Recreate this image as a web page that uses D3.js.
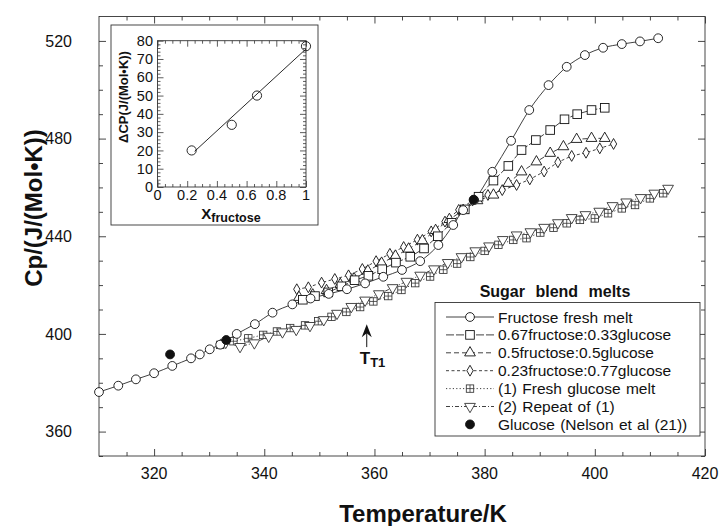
<!DOCTYPE html>
<html><head><meta charset="utf-8">
<script src="https://cdn.jsdelivr.net/npm/d3@7"></script>
<style>
html,body{margin:0;padding:0;background:#fff;}
svg text{font-family:"Liberation Sans",Arial,Helvetica,sans-serif;fill:#111;}
</style></head>
<body><svg id="c" width="719" height="526"></svg>
<script>
// ---------- data ----------
const xTickLabels = [320, 340, 360, 380, 400, 420];
const yTickLabels = [360, 400, 440, 480, 520];
const insetXTickLabels = [0, 0.2, 0.4, 0.6, 0.8, 1];
const insetYTickLabels = [0, 10, 20, 30, 40, 50, 60, 70, 80];

const fructoseT  = [310,313.5,316.7,320,323.3,326.7,328.3,330.1,332,335,338.3,341.5,345.1,348.4,351.7,355,358.3,361.6,365,368.3,371.6,374.3,376.1,378.1,381.4,384.8,388.1,391.6,394.9,398.2,401.5,404.9,408.2,411.5];
const fructoseCp = [376.2,378.8,381.4,383.9,386.9,390.0,391.6,393.7,395.6,400.0,404.0,408.7,412.1,414.5,416.4,418.3,420.7,423.4,426.2,429.8,436.4,444.6,450.7,454.8,466.4,479.1,491.7,501.9,509.4,514.2,517.2,518.7,519.8,521.1];

const blend67T  = [347.0,349.2,351.6,354.0,356.4,358.9,361.4,363.9,366.5,369.0,371.5,374.0,376.4,378.9,381.6,384.3,386.7,389.3,391.9,394.5,396.8,399.4,401.8];
const blend67Cp = [414.0,415.5,417.0,419.5,422.0,423.8,426.5,429.2,431.6,435.0,440.0,445.5,451.0,456.2,462.8,468.8,475.3,479.4,483.5,487.9,490.0,491.7,492.6];

const blend50T  = [346.3,348.8,351.3,353.8,356.3,358.8,361.3,363.8,366.2,368.7,371.1,373.6,376.1,378.7,381.6,384.3,386.7,389.4,391.9,394.3,396.7,399.4,401.8];
const blend50Cp = [415.0,416.0,417.8,420.3,422.6,425.8,429.0,431.9,434.8,438.2,442.4,446.9,450.6,454.6,456.9,461.7,466.4,470.5,474.0,476.7,479.7,480.1,480.1];

const blend23T  = [345.9,348.0,350.4,352.8,355.3,357.8,360.3,362.8,365.3,367.8,370.3,372.8,375.3,377.8,380.6,383.2,385.8,388.2,390.8,393.3,395.8,398.4,400.9,403.4];
const blend23Cp = [418.3,419.1,421.0,422.5,424.0,426.6,429.8,432.8,435.6,438.6,442.0,446.0,450.8,454.6,456.9,458.9,461.0,463.3,466.5,470.3,472.9,474.2,476.0,477.8];

const glucose1T  = [332.0,334.4,337.1,339.8,342.3,344.7,347.4,349.8,352.2,354.9,357.4,359.8,362.5,364.9,367.4,370.1,372.5,375.0,377.4,380.0,382.5,385.2,387.6,390.1,392.5,394.9,397.3,400.0,402.4,404.9,407.3,410.0,412.4];
const glucose1Cp = [395.5,397.0,398.2,399.6,401.0,402.4,403.5,405.2,407.0,409.0,411.0,413.3,415.5,418.0,420.8,423.5,426.3,428.8,431.5,434.0,436.5,438.5,439.2,441.5,443.5,445.3,446.7,447.3,449.4,451.4,452.8,455.5,457.6];

const glucose2T  = [333.0,335.6,338.2,340.8,343.3,345.8,348.3,350.8,353.2,355.8,358.3,360.8,363.3,365.8,368.3,370.8,373.3,375.8,378.3,380.8,383.3,385.8,388.3,390.8,393.3,395.8,398.3,400.8,403.2,405.7,408.3,410.8,413.3];
const glucose2Cp = [396.5,394.8,396.3,399.0,400.8,401.8,403.4,405.8,408.4,411.2,413.8,416.4,418.9,421.5,424.0,426.6,429.2,431.6,434.0,436.0,438.6,440.5,441.8,443.6,445.5,447.6,448.8,450.2,452.5,454.0,455.8,457.6,459.6];

const nelsonT  = [322.9, 333.1, 378.0];
const nelsonCp = [391.6, 397.5, 455.0];

const seriesNames = ["Fructose fresh melt","0.67fructose:0.33glucose","0.5fructose:0.5glucose","0.23fructose:0.77glucose","(1) Fresh glucose melt","(2) Repeat of (1)","Glucose (Nelson et al (21))"];

// inset
const insetX  = [0.23, 0.5, 0.67, 1.0];
const insetDCp = [20, 34, 50, 77];
const fitX = [0.25, 1.0];
const fitY = [19.5, 75.5];

const ttArrowT = 358.6, ttArrowCpTop = 404.0, ttArrowCpBottom = 394.6;

// ---------- drawing ----------
const svg = d3.select("#c");
const ink = "#111";
const x = d3.scaleLinear().domain([310, 420]).range([99, 705]);
const y = d3.scaleLinear().domain([350, 530]).range([456, 16.5]);

const g = svg.append("g");
g.append("rect").attr("x", x(310)).attr("y", y(530)).attr("width", x(420)-x(310)).attr("height", y(350)-y(530))
  .attr("fill","none").attr("stroke","#333").attr("stroke-width",0.9);

function axis(gen, vals, size, tx, ty){
  const a = g.append("g").attr("transform",`translate(${tx},${ty})`)
    .call(gen.tickValues(vals).tickSize(size).tickFormat(""));
  a.select(".domain").remove();
  a.selectAll("line").attr("stroke","#333").attr("stroke-width",0.9);
  return a;
}
const xMinor = d3.range(315, 420, 5).filter(v => v % 20 !== 0);
const yMinor = d3.range(350, 530, 10).filter(v => (v-360) % 40 !== 0);
axis(d3.axisBottom(x), xMinor, -4, 0, y(350));
axis(d3.axisBottom(x), xTickLabels, -7, 0, y(350));
axis(d3.axisTop(x), xMinor, -4, 0, y(530));
axis(d3.axisTop(x), xTickLabels, -7, 0, y(530));
axis(d3.axisLeft(y), yMinor, -4, x(310), 0);
axis(d3.axisLeft(y), yTickLabels, -7, x(310), 0);
axis(d3.axisRight(y), yMinor, -4, x(420), 0);
axis(d3.axisRight(y), yTickLabels, -7, x(420), 0);

g.selectAll(".xl").data(xTickLabels).enter().append("text")
  .attr("x", d => x(d)).attr("y", 478.5).attr("text-anchor","middle").attr("font-size",16).text(d => d);
g.selectAll(".yl").data(yTickLabels).enter().append("text")
  .attr("x", 72).attr("y", d => y(d)).attr("dy","0.36em").attr("text-anchor","end").attr("font-size",16).text(d => d);

svg.append("text").attr("x", 423).attr("y", 522).attr("text-anchor","middle")
  .attr("font-size",24).attr("font-weight","bold").text("Temperature/K");
svg.append("text").attr("transform","translate(42,208) rotate(-90)").attr("text-anchor","middle")
  .attr("font-size",24).attr("font-weight","bold").text("Cp/(J/(Mol•K))");

function marker(sel, type){
  const s = ink;
  if (type === "circle") sel.append("circle").attr("r",4.4).attr("fill","#fff").attr("stroke",s).attr("stroke-width",0.9);
  else if (type === "square") sel.append("rect").attr("x",-4.3).attr("y",-4.3).attr("width",8.6).attr("height",8.6).attr("fill","#fff").attr("stroke",s).attr("stroke-width",0.9);
  else if (type === "triangle") sel.append("path").attr("d", d3.symbol(d3.symbolTriangle, 50)()).attr("fill","#fff").attr("stroke",s).attr("stroke-width",0.9);
  else if (type === "diamond") sel.append("path").attr("d", d3.symbol(d3.symbolDiamond, 34)()).attr("fill","#fff").attr("stroke",s).attr("stroke-width",0.9);
  else if (type === "boxplus") {
    sel.append("rect").attr("x",-3.7).attr("y",-3.7).attr("width",7.4).attr("height",7.4).attr("fill","#fff").attr("stroke","#333").attr("stroke-width",0.85);
    sel.append("path").attr("d","M-3.7,0H3.7M0,-3.7V3.7").attr("stroke","#333").attr("stroke-width",0.8);
  }
  else if (type === "tridown") sel.append("path").attr("d", d3.symbol(d3.symbolTriangle, 50)()).attr("transform","rotate(180)").attr("fill","#fff").attr("stroke","#333").attr("stroke-width",0.9);
  else if (type === "filled") sel.append("circle").attr("r",4.4).attr("fill",ink).attr("stroke",ink);
}

const series = [
  {T: glucose1T, Cp: glucose1Cp, m: "boxplus",  dash: "1.2,2.2", curve: d3.curveLinear},
  {T: glucose2T, Cp: glucose2Cp, m: "tridown",  dash: "4,2,1,2", curve: d3.curveLinear},
  {T: blend23T,  Cp: blend23Cp,  m: "diamond",  dash: "3,2.5",   curve: d3.curveLinear},
  {T: blend50T,  Cp: blend50Cp,  m: "triangle", dash: "5,3",     curve: d3.curveLinear},
  {T: blend67T,  Cp: blend67Cp,  m: "square",   dash: "8,2",     curve: d3.curveLinear},
  {T: fructoseT, Cp: fructoseCp, m: "circle",   dash: null,      curve: d3.curveMonotoneX},
];
const plot = svg.append("g");
series.forEach(s => {
  const pts = s.T.map((t,i) => [t, s.Cp[i]]);
  const line = d3.line().x(d => x(d[0])).y(d => y(d[1])).curve(s.curve);
  plot.append("path").attr("d", line(pts)).attr("fill","none").attr("stroke",ink).attr("stroke-width",0.8)
    .attr("stroke-dasharray", s.dash);
});
series.forEach(s => {
  const pts = s.T.map((t,i) => [t, s.Cp[i]]);
  plot.selectAll(null).data(pts).enter().append("g")
    .attr("transform", d => `translate(${x(d[0])},${y(d[1])})`)
    .each(function(){ marker(d3.select(this), s.m); });
});
plot.selectAll(null).data(nelsonT.map((t,i)=>[t,nelsonCp[i]])).enter().append("g")
  .attr("transform", d => `translate(${x(d[0])},${y(d[1])})`)
  .each(function(){ marker(d3.select(this), "filled"); });

// T_T1 arrow
const ax = x(ttArrowT), at = y(ttArrowCpTop);
svg.append("line").attr("x1",ax).attr("x2",ax).attr("y1",at+6).attr("y2",y(ttArrowCpBottom))
  .attr("stroke",ink).attr("stroke-width",1);
svg.append("path").attr("d",`M${ax},${at} L${ax-5},${at+13} L${ax},${at+9} L${ax+5},${at+13}Z`).attr("fill",ink);
const tt = svg.append("text").attr("x", ax-7).attr("y", 364).attr("font-weight","bold").attr("font-size",17);
tt.append("tspan").text("T");
tt.append("tspan").attr("dy",3).attr("font-size",13).text("T1");

// legend
const lg = svg.append("g");
lg.append("text").attr("x",555).attr("y",297).attr("text-anchor","middle").attr("font-weight","bold")
  .attr("font-size",16).attr("word-spacing",6).text("Sugar blend melts");
lg.append("rect").attr("x",435).attr("y",302.5).attr("width",265).attr("height",133.5).attr("fill","#fff").attr("stroke","#333").attr("stroke-width",0.9);
const legendItems = [
  {m:"circle", dash:null}, {m:"square", dash:"8,2"}, {m:"triangle", dash:"5,3"},
  {m:"diamond", dash:"3,2.5"}, {m:"boxplus", dash:"1.2,2.2"}, {m:"tridown", dash:"4,2,1,2"}, {m:"filled", dash:"none"}
];
legendItems.forEach((it, i) => {
  const cy = 317 + i*17.9;
  if (it.dash !== "none") lg.append("line").attr("x1",446).attr("x2",494).attr("y1",cy).attr("y2",cy)
     .attr("stroke",ink).attr("stroke-width",0.8).attr("stroke-dasharray",it.dash);
  const mg = lg.append("g").attr("transform",`translate(470,${cy})`);
  marker(mg, it.m);
  lg.append("text").attr("x",498).attr("y",cy).attr("dy","0.36em").attr("font-size",15.5).attr("word-spacing",1).text(seriesNames[i]);
});

// inset
const ins = svg.append("g");
ins.append("rect").attr("x",111).attr("y",25).attr("width",207).attr("height",200).attr("fill","#fff").attr("stroke","#333").attr("stroke-width",0.9);
const ix = d3.scaleLinear().domain([0,1]).range([157.5,306]);
const iy = d3.scaleLinear().domain([0,80]).range([187,40.7]);
ins.append("rect").attr("x",ix(0)).attr("y",iy(80)).attr("width",ix(1)-ix(0)).attr("height",iy(0)-iy(80))
  .attr("fill","none").attr("stroke","#333").attr("stroke-width",0.9);
function iaxis(gen, vals, size, tx, ty){
  const a = ins.append("g").attr("transform",`translate(${tx},${ty})`).call(gen.tickValues(vals).tickSize(size).tickFormat(""));
  a.select(".domain").remove();
  a.selectAll("line").attr("stroke","#333").attr("stroke-width",0.8);
}
const ixMinor = d3.range(0.05, 1, 0.05).filter(v => Math.abs(v*5 - Math.round(v*5)) > 1e-6);
const iyMinor = d3.range(2, 80, 2).filter(v => v % 10 !== 0);
iaxis(d3.axisBottom(ix), ixMinor, -3, 0, iy(0));
iaxis(d3.axisBottom(ix), insetXTickLabels, -6, 0, iy(0));
iaxis(d3.axisTop(ix), ixMinor, -3, 0, iy(80));
iaxis(d3.axisTop(ix), insetXTickLabels, -6, 0, iy(80));
iaxis(d3.axisLeft(iy), iyMinor, -3, ix(0), 0);
iaxis(d3.axisLeft(iy), insetYTickLabels, -6, ix(0), 0);
iaxis(d3.axisRight(iy), iyMinor, -3, ix(1), 0);
iaxis(d3.axisRight(iy), insetYTickLabels, -6, ix(1), 0);
ins.selectAll(null).data(insetYTickLabels).enter().append("text")
  .attr("x",153).attr("y",d=>iy(d)).attr("dy","0.36em").attr("text-anchor","end").attr("font-size",14.5).text(d=>d);
ins.selectAll(null).data(insetXTickLabels).enter().append("text")
  .attr("x",d=>ix(d)).attr("y",200).attr("text-anchor","middle").attr("font-size",14.5).text(d=>d);
const xl = ins.append("text").attr("x",231).attr("y",219).attr("text-anchor","middle").attr("font-weight","bold").attr("font-size",15);
xl.append("tspan").text("X");
xl.append("tspan").attr("dy",2.5).attr("font-size",12.5).text("fructose");
ins.append("text").attr("transform","translate(128,97) rotate(-90)").attr("text-anchor","middle")
  .attr("font-weight","bold").attr("font-size",13).text("\u0394CP(J/(Mol\u2022K))");
ins.append("path").attr("d", d3.line().x(d=>ix(d[0])).y(d=>iy(d[1]))(fitX.map((v,i)=>[v,fitY[i]])))
  .attr("fill","none").attr("stroke",ink).attr("stroke-width",0.9);
ins.selectAll(null).data(insetX.map((v,i)=>[v,insetDCp[i]])).enter().append("circle")
  .attr("cx",d=>ix(d[0])).attr("cy",d=>iy(d[1])).attr("r",4.6).attr("fill","none").attr("stroke",ink).attr("stroke-width",0.9);
</script></body></html>
